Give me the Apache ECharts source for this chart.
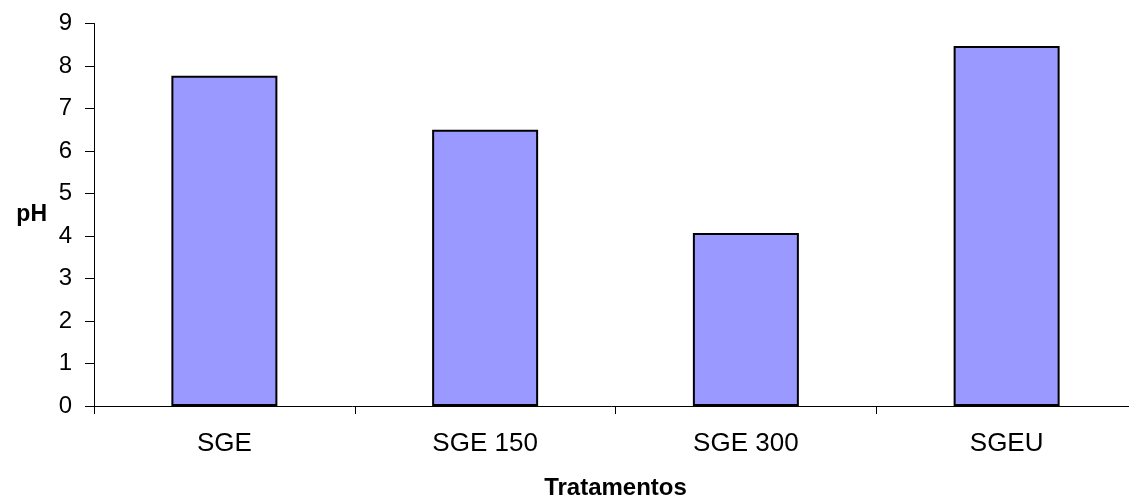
<!DOCTYPE html>
<html>
<head>
<meta charset="utf-8">
<style>
  html, body { margin: 0; padding: 0; background: #ffffff; overflow: hidden; }
  #chart { width: 1129px; height: 499px; }
</style>
<script src="https://cdn.jsdelivr.net/npm/echarts@6/dist/echarts.min.js"></script>
</head>
<body>
<div id="chart"></div>
<script>
// pH por tratamento
const categories = ['SGE', 'SGE 150', 'SGE 300', 'SGEU'];
const phValues = [7.77, 6.5, 4.07, 8.47];
const yTicks = { min: 0, max: 9, interval: 1 };

const FONT = '"Liberation Sans", Arial, sans-serif';

const chart = echarts.init(document.getElementById('chart'), null, { renderer: 'canvas' });

chart.setOption({
  animation: false,
  backgroundColor: '#ffffff',
  grid: {
    left: 94, right: -8, top: 23.5, bottom: 93,
    containLabel: false,
    outerBoundsMode: 'none'
  },
  xAxis: {
    type: 'category',
    data: categories,
    name: 'Tratamentos',
    nameLocation: 'middle',
    nameGap: 70,
    nameTextStyle: { fontFamily: FONT, fontSize: 24, fontWeight: 'bold', color: '#000' },
    axisLine: { show: true, lineStyle: { color: '#000', width: 1 } },
    axisTick: { show: true, length: 8, lineStyle: { color: '#000', width: 1 } },
    axisLabel: { fontFamily: FONT, fontSize: 26, color: '#000', margin: 25 },
    splitLine: { show: false }
  },
  yAxis: {
    type: 'value',
    min: yTicks.min,
    max: yTicks.max,
    interval: yTicks.interval,
    name: 'pH',
    nameLocation: 'middle',
    nameRotate: 0,
    nameGap: 47,
    nameTextStyle: { fontFamily: FONT, fontSize: 23, fontWeight: 'bold', color: '#000' },
    axisLine: { show: true, lineStyle: { color: '#000', width: 1 } },
    axisTick: { show: true, length: 9, lineStyle: { color: '#000', width: 1 } },
    axisLabel: { fontFamily: FONT, fontSize: 24, color: '#000', margin: 22 },
    splitLine: { show: false }
  },
  series: [{
    type: 'bar',
    data: phValues,
    barWidth: 106,
    itemStyle: { color: '#9999ff', borderColor: '#000', borderWidth: 2 }
  }]
});
</script>
</body>
</html>
